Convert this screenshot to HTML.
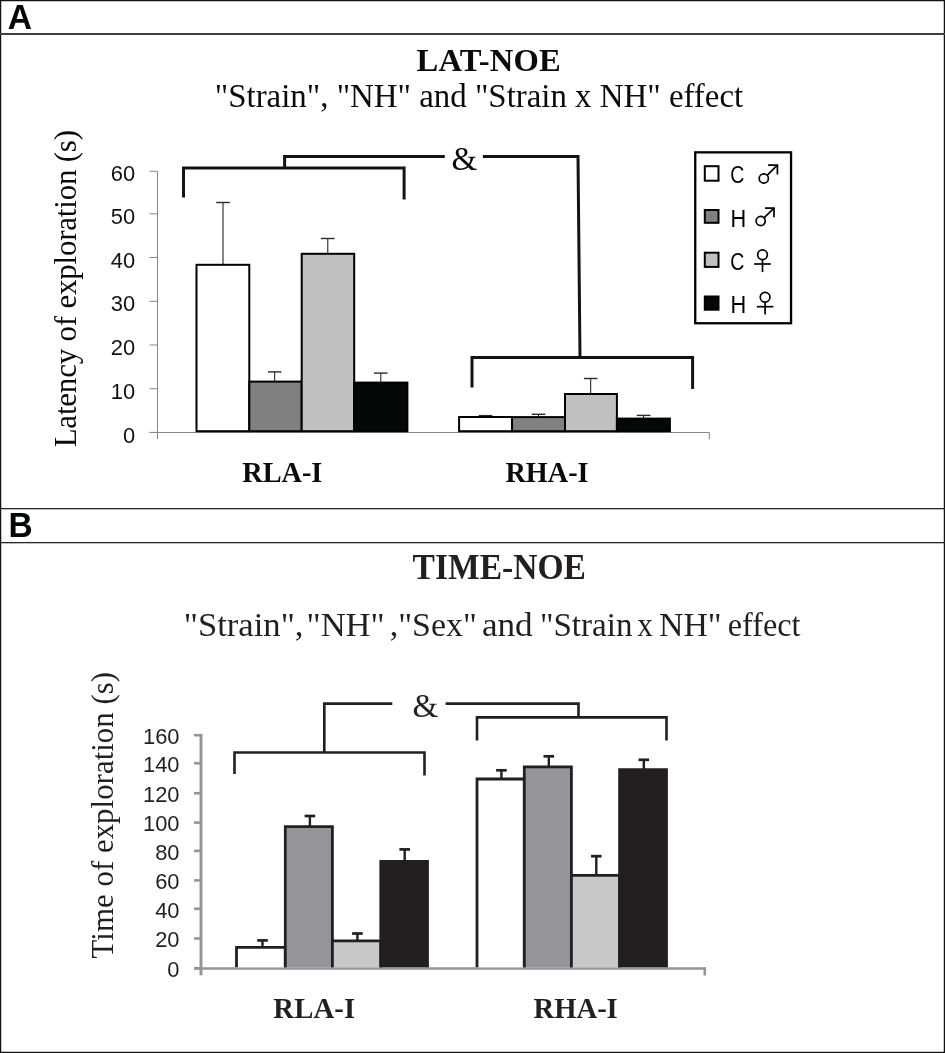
<!DOCTYPE html>
<html><head><meta charset="utf-8"><title>LAT-NOE / TIME-NOE</title>
<style>
html,body{margin:0;padding:0;background:#fff;}
body{width:945px;height:1053px;overflow:hidden;font-family:"Liberation Serif", serif;}
svg{display:block;will-change:transform;}
</style></head><body>
<svg width="945" height="1053" viewBox="0 0 945 1053">
<rect width="945" height="1053" fill="#fff"/>
<rect x="0.6" y="0.6" width="943.8" height="1051.8" fill="none" stroke="#151213" stroke-width="1.3"/>
<rect x="0" y="33" width="945" height="2" fill="#423e3f"/>
<rect x="0" y="508" width="945" height="1.3" fill="#2a2627"/>
<rect x="0" y="542" width="945" height="1.3" fill="#2a2627"/>
<text x="7.74" y="29.40" style="font-family:'Liberation Sans', sans-serif;font-weight:bold;font-size:34.2px" fill="#040708" textLength="24.28" lengthAdjust="spacingAndGlyphs">A</text>
<text x="8.56" y="536.80" style="font-family:'Liberation Sans', sans-serif;font-weight:bold;font-size:34.5px" fill="#040708" textLength="24.17" lengthAdjust="spacingAndGlyphs">B</text>
<text x="416.51" y="71.20" style="font-family:'Liberation Serif', serif;font-weight:bold;font-size:32.6px" fill="#0b0b0b" textLength="144.13" lengthAdjust="spacing">LAT-NOE</text>
<text x="214.83" y="106.60" style="font-family:'Liberation Serif', serif;font-weight:normal;font-size:32.9px" fill="#0b0b0b" textLength="528.29" lengthAdjust="spacing">&quot;Strain&quot;, &quot;NH&quot; and &quot;Strain x NH&quot; effect</text>
<text transform="translate(76.10,447.33) rotate(-90)" x="0" y="0" style="font-family:'Liberation Serif', serif;font-weight:normal;font-size:31px" fill="#0b0b0b" textLength="317.35" lengthAdjust="spacing">Latency of exploration (s)</text>
<line x1="157.5" y1="171.30" x2="157.5" y2="439.2" stroke="#878787" stroke-width="1"/>
<line x1="149.5" y1="432.40" x2="157.5" y2="432.40" stroke="#878787" stroke-width="1"/>
<text x="122.92" y="442.56" style="font-family:'Liberation Sans', sans-serif;font-weight:normal;font-size:21.9px" fill="#111">0</text>
<line x1="149.5" y1="388.70" x2="157.5" y2="388.70" stroke="#878787" stroke-width="1"/>
<text x="110.77" y="398.87" style="font-family:'Liberation Sans', sans-serif;font-weight:normal;font-size:21.9px" fill="#111">10</text>
<line x1="149.5" y1="345.00" x2="157.5" y2="345.00" stroke="#878787" stroke-width="1"/>
<text x="110.77" y="355.17" style="font-family:'Liberation Sans', sans-serif;font-weight:normal;font-size:21.9px" fill="#111">20</text>
<line x1="149.5" y1="301.30" x2="157.5" y2="301.30" stroke="#878787" stroke-width="1"/>
<text x="110.77" y="311.47" style="font-family:'Liberation Sans', sans-serif;font-weight:normal;font-size:21.9px" fill="#111">30</text>
<line x1="149.5" y1="257.50" x2="157.5" y2="257.50" stroke="#878787" stroke-width="1"/>
<text x="110.77" y="267.67" style="font-family:'Liberation Sans', sans-serif;font-weight:normal;font-size:21.9px" fill="#111">40</text>
<line x1="149.5" y1="213.80" x2="157.5" y2="213.80" stroke="#878787" stroke-width="1"/>
<text x="110.77" y="223.97" style="font-family:'Liberation Sans', sans-serif;font-weight:normal;font-size:21.9px" fill="#111">50</text>
<line x1="149.5" y1="171.30" x2="157.5" y2="171.30" stroke="#878787" stroke-width="1"/>
<text x="110.77" y="181.47" style="font-family:'Liberation Sans', sans-serif;font-weight:normal;font-size:21.9px" fill="#111">60</text>
<line x1="149.5" y1="432.5" x2="709.3" y2="432.5" stroke="#878787" stroke-width="1"/>
<line x1="709.3" y1="432.5" x2="709.3" y2="439.4" stroke="#878787" stroke-width="1"/>
<line x1="223.00" y1="264.80" x2="223.00" y2="202.50" stroke="#101010" stroke-width="1"/>
<line x1="216.20" y1="202.50" x2="229.80" y2="202.50" stroke="#2a2a2a" stroke-width="1.4"/>
<line x1="274.70" y1="381.60" x2="274.70" y2="371.90" stroke="#101010" stroke-width="1"/>
<line x1="267.90" y1="371.90" x2="281.50" y2="371.90" stroke="#2a2a2a" stroke-width="1.4"/>
<line x1="327.80" y1="253.80" x2="327.80" y2="238.50" stroke="#101010" stroke-width="1"/>
<line x1="321.00" y1="238.50" x2="334.60" y2="238.50" stroke="#2a2a2a" stroke-width="1.4"/>
<line x1="380.80" y1="382.60" x2="380.80" y2="373.10" stroke="#101010" stroke-width="1"/>
<line x1="374.00" y1="373.10" x2="387.60" y2="373.10" stroke="#2a2a2a" stroke-width="1.4"/>
<rect x="196.50" y="264.80" width="52.80" height="166.40" fill="#ffffff" stroke="#000" stroke-width="2"/>
<rect x="249.30" y="381.60" width="52.40" height="49.60" fill="#7f807f" stroke="#000" stroke-width="2"/>
<rect x="301.70" y="253.80" width="52.50" height="177.40" fill="#c0c0c0" stroke="#000" stroke-width="2"/>
<rect x="354.20" y="382.60" width="53.20" height="48.60" fill="#050809" stroke="#000" stroke-width="2"/>
<line x1="485.50" y1="417.00" x2="485.50" y2="415.60" stroke="#101010" stroke-width="1"/>
<line x1="478.70" y1="415.60" x2="492.30" y2="415.60" stroke="#2a2a2a" stroke-width="1.4"/>
<line x1="538.50" y1="417.10" x2="538.50" y2="414.30" stroke="#101010" stroke-width="1"/>
<line x1="531.70" y1="414.30" x2="545.30" y2="414.30" stroke="#2a2a2a" stroke-width="1.4"/>
<line x1="590.70" y1="394.00" x2="590.70" y2="378.50" stroke="#101010" stroke-width="1"/>
<line x1="583.90" y1="378.50" x2="597.50" y2="378.50" stroke="#2a2a2a" stroke-width="1.4"/>
<line x1="643.60" y1="418.60" x2="643.60" y2="415.40" stroke="#101010" stroke-width="1"/>
<line x1="636.80" y1="415.40" x2="650.40" y2="415.40" stroke="#2a2a2a" stroke-width="1.4"/>
<rect x="459.10" y="417.00" width="52.95" height="14.20" fill="#ffffff" stroke="#000" stroke-width="2"/>
<rect x="512.05" y="417.10" width="52.95" height="14.10" fill="#7f807f" stroke="#000" stroke-width="2"/>
<rect x="565.00" y="394.00" width="51.90" height="37.20" fill="#c0c0c0" stroke="#000" stroke-width="2"/>
<rect x="616.90" y="418.60" width="53.00" height="12.60" fill="#050809" stroke="#000" stroke-width="2"/>
<polyline points="183.50,197.50 183.50,168.00 404.10,168.00 404.10,199.50" fill="none" stroke="#141414" stroke-width="3" stroke-linejoin="miter" stroke-linecap="butt"/>
<polyline points="284.60,168.00 284.60,156.40 444.80,156.40" fill="none" stroke="#141414" stroke-width="3" stroke-linejoin="miter" stroke-linecap="butt"/>
<polyline points="482.90,156.40 578.00,156.40 580.00,357.60" fill="none" stroke="#141414" stroke-width="3" stroke-linejoin="miter" stroke-linecap="butt"/>
<polyline points="472.00,387.50 472.00,357.60 692.60,357.60 692.60,389.00" fill="none" stroke="#141414" stroke-width="3" stroke-linejoin="miter" stroke-linecap="butt"/>
<text x="451.48" y="170.00" style="font-family:'Liberation Serif', serif;font-weight:normal;font-size:33px" fill="#0b0b0b" textLength="25.91" lengthAdjust="spacing">&amp;</text>
<text x="242.26" y="481.50" style="font-family:'Liberation Serif', serif;font-weight:bold;font-size:29.5px" fill="#0b0b0b" textLength="80.13" lengthAdjust="spacingAndGlyphs">RLA-I</text>
<text x="505.46" y="481.50" style="font-family:'Liberation Serif', serif;font-weight:bold;font-size:29.5px" fill="#0b0b0b" textLength="83.06" lengthAdjust="spacingAndGlyphs">RHA-I</text>
<rect x="695.25" y="152.35" width="95.8" height="170.9" fill="#fff" stroke="#000" stroke-width="2.3"/>
<rect x="704.80" y="166.20" width="13.7" height="14.50" fill="#ffffff" stroke="#000" stroke-width="2"/>
<rect x="704.80" y="210.00" width="13.7" height="12.80" fill="#7f807f" stroke="#000" stroke-width="2"/>
<rect x="704.80" y="252.70" width="13.7" height="14.20" fill="#c0c0c0" stroke="#000" stroke-width="2"/>
<rect x="704.80" y="296.50" width="13.7" height="13.20" fill="#050809" stroke="#000" stroke-width="2"/>
<text x="730.23" y="183.40" style="font-family:'Liberation Sans', sans-serif;font-weight:normal;font-size:23.5px" fill="#000" textLength="14.07" lengthAdjust="spacingAndGlyphs">C</text>
<text x="730.52" y="226.70" style="font-family:'Liberation Sans', sans-serif;font-weight:normal;font-size:23.5px" fill="#000" textLength="15.71" lengthAdjust="spacingAndGlyphs">H</text>
<text x="730.23" y="270.30" style="font-family:'Liberation Sans', sans-serif;font-weight:normal;font-size:23.5px" fill="#000" textLength="14.07" lengthAdjust="spacingAndGlyphs">C</text>
<text x="730.52" y="313.10" style="font-family:'Liberation Sans', sans-serif;font-weight:normal;font-size:23.5px" fill="#000" textLength="15.71" lengthAdjust="spacingAndGlyphs">H</text>
<circle cx="763.80" cy="178.50" r="4.60" fill="none" stroke="#000" stroke-width="1.7"/><line x1="767.09" y1="175.28" x2="777.40" y2="165.20" stroke="#000" stroke-width="1.7"/><polyline points="768.10,165.20 777.40,165.20 777.40,174.50" fill="none" stroke="#000" stroke-width="1.7"/>
<circle cx="760.70" cy="221.00" r="4.60" fill="none" stroke="#000" stroke-width="1.7"/><line x1="764.01" y1="217.81" x2="774.00" y2="208.20" stroke="#000" stroke-width="1.7"/><polyline points="765.00,208.20 774.00,208.20 774.00,217.20" fill="none" stroke="#000" stroke-width="1.7"/>
<circle cx="762.50" cy="254.80" r="4.85" fill="none" stroke="#000" stroke-width="1.7"/><line x1="762.50" y1="259.65" x2="762.50" y2="272.10" stroke="#000" stroke-width="1.7"/><line x1="754.20" y1="264.00" x2="770.80" y2="264.00" stroke="#000" stroke-width="1.7"/>
<circle cx="765.10" cy="297.30" r="4.85" fill="none" stroke="#000" stroke-width="1.7"/><line x1="765.10" y1="302.15" x2="765.10" y2="314.50" stroke="#000" stroke-width="1.7"/><line x1="756.80" y1="306.70" x2="773.40" y2="306.70" stroke="#000" stroke-width="1.7"/>
<text x="412.58" y="578.80" style="font-family:'Liberation Serif', serif;font-weight:bold;font-size:35px" fill="#231f20" textLength="173.35" lengthAdjust="spacingAndGlyphs">TIME-NOE</text>
<text x="183.75" y="635.80" style="font-family:'Liberation Serif', serif;font-weight:normal;font-size:34.2px" fill="#231f20" textLength="119.68" lengthAdjust="spacingAndGlyphs">&quot;Strain&quot;,</text>
<text x="306.55" y="635.80" style="font-family:'Liberation Serif', serif;font-weight:normal;font-size:34.2px" fill="#231f20" textLength="78.13" lengthAdjust="spacingAndGlyphs">&quot;NH&quot;</text>
<text x="389.73" y="635.80" style="font-family:'Liberation Serif', serif;font-weight:normal;font-size:34.2px" fill="#231f20" textLength="87.07" lengthAdjust="spacingAndGlyphs">,&quot;Sex&quot;</text>
<text x="481.90" y="635.80" style="font-family:'Liberation Serif', serif;font-weight:normal;font-size:34.2px" fill="#231f20" textLength="50.80" lengthAdjust="spacingAndGlyphs">and</text>
<text x="539.95" y="635.80" style="font-family:'Liberation Serif', serif;font-weight:normal;font-size:34.2px" fill="#231f20" textLength="92.53" lengthAdjust="spacingAndGlyphs">&quot;Strain</text>
<text x="637.16" y="635.80" style="font-family:'Liberation Serif', serif;font-weight:normal;font-size:34.2px" fill="#231f20" textLength="15.58" lengthAdjust="spacingAndGlyphs">x</text>
<text x="658.97" y="635.80" style="font-family:'Liberation Serif', serif;font-weight:normal;font-size:34.2px" fill="#231f20" textLength="62.67" lengthAdjust="spacingAndGlyphs">NH&quot;</text>
<text x="727.73" y="635.80" style="font-family:'Liberation Serif', serif;font-weight:normal;font-size:34.2px" fill="#231f20" textLength="72.82" lengthAdjust="spacingAndGlyphs">effect</text>
<text transform="translate(113.20,958.42) rotate(-90)" x="0" y="0" style="font-family:'Liberation Serif', serif;font-weight:normal;font-size:30.8px" fill="#231f20" textLength="286.53" lengthAdjust="spacing">Time of exploration (s)</text>
<line x1="201" y1="733.90" x2="201" y2="975.3" stroke="#939598" stroke-width="2.9"/>
<line x1="194" y1="968.30" x2="201" y2="968.30" stroke="#939598" stroke-width="2.6"/>
<text x="167.32" y="977.16" style="font-family:'Liberation Sans', sans-serif;font-weight:normal;font-size:21.9px" fill="#231f20">0</text>
<line x1="194" y1="938.50" x2="201" y2="938.50" stroke="#939598" stroke-width="2.6"/>
<text x="155.17" y="947.37" style="font-family:'Liberation Sans', sans-serif;font-weight:normal;font-size:21.9px" fill="#231f20">20</text>
<line x1="194" y1="908.80" x2="201" y2="908.80" stroke="#939598" stroke-width="2.6"/>
<text x="155.17" y="917.66" style="font-family:'Liberation Sans', sans-serif;font-weight:normal;font-size:21.9px" fill="#231f20">40</text>
<line x1="194" y1="880.40" x2="201" y2="880.40" stroke="#939598" stroke-width="2.6"/>
<text x="155.17" y="889.26" style="font-family:'Liberation Sans', sans-serif;font-weight:normal;font-size:21.9px" fill="#231f20">60</text>
<line x1="194" y1="850.90" x2="201" y2="850.90" stroke="#939598" stroke-width="2.6"/>
<text x="155.17" y="859.76" style="font-family:'Liberation Sans', sans-serif;font-weight:normal;font-size:21.9px" fill="#231f20">80</text>
<line x1="194" y1="822.60" x2="201" y2="822.60" stroke="#939598" stroke-width="2.6"/>
<text x="143.01" y="831.47" style="font-family:'Liberation Sans', sans-serif;font-weight:normal;font-size:21.9px" fill="#231f20">100</text>
<line x1="194" y1="793.20" x2="201" y2="793.20" stroke="#939598" stroke-width="2.6"/>
<text x="143.01" y="802.07" style="font-family:'Liberation Sans', sans-serif;font-weight:normal;font-size:21.9px" fill="#231f20">120</text>
<line x1="194" y1="763.30" x2="201" y2="763.30" stroke="#939598" stroke-width="2.6"/>
<text x="143.01" y="772.16" style="font-family:'Liberation Sans', sans-serif;font-weight:normal;font-size:21.9px" fill="#231f20">140</text>
<line x1="194" y1="735.20" x2="201" y2="735.20" stroke="#939598" stroke-width="2.6"/>
<text x="143.01" y="744.07" style="font-family:'Liberation Sans', sans-serif;font-weight:normal;font-size:21.9px" fill="#231f20">160</text>
<line x1="194" y1="968.5" x2="704.8" y2="968.5" stroke="#939598" stroke-width="2.7"/>
<line x1="704.8" y1="967.2" x2="704.8" y2="975.5" stroke="#939598" stroke-width="2.6"/>
<line x1="262.50" y1="947.30" x2="262.50" y2="940.40" stroke="#231f20" stroke-width="2.4"/>
<line x1="257.20" y1="940.40" x2="267.80" y2="940.40" stroke="#231f20" stroke-width="2.7"/>
<line x1="309.90" y1="826.60" x2="309.90" y2="816.00" stroke="#231f20" stroke-width="2.4"/>
<line x1="304.60" y1="816.00" x2="315.20" y2="816.00" stroke="#231f20" stroke-width="2.7"/>
<line x1="357.40" y1="940.80" x2="357.40" y2="933.50" stroke="#231f20" stroke-width="2.4"/>
<line x1="352.10" y1="933.50" x2="362.70" y2="933.50" stroke="#231f20" stroke-width="2.7"/>
<line x1="404.70" y1="861.50" x2="404.70" y2="849.40" stroke="#231f20" stroke-width="2.4"/>
<line x1="399.40" y1="849.40" x2="410.00" y2="849.40" stroke="#231f20" stroke-width="2.7"/>
<path d="M236.50,967.2 V947.30 H285.30 V967.2" fill="#ffffff" stroke="#231f20" stroke-width="2.8"/>
<path d="M285.30,967.2 V826.60 H332.40 V967.2" fill="#939598" stroke="#231f20" stroke-width="2.8"/>
<path d="M332.40,967.2 V940.80 H380.80 V967.2" fill="#c7c8ca" stroke="#231f20" stroke-width="2.8"/>
<path d="M380.80,967.2 V861.50 H427.50 V967.2" fill="#231f20" stroke="#231f20" stroke-width="2.8"/>
<line x1="501.40" y1="779.00" x2="501.40" y2="770.30" stroke="#231f20" stroke-width="2.4"/>
<line x1="496.10" y1="770.30" x2="506.70" y2="770.30" stroke="#231f20" stroke-width="2.7"/>
<line x1="548.80" y1="766.80" x2="548.80" y2="756.30" stroke="#231f20" stroke-width="2.4"/>
<line x1="543.50" y1="756.30" x2="554.10" y2="756.30" stroke="#231f20" stroke-width="2.7"/>
<line x1="596.30" y1="875.30" x2="596.30" y2="856.20" stroke="#231f20" stroke-width="2.4"/>
<line x1="591.00" y1="856.20" x2="601.60" y2="856.20" stroke="#231f20" stroke-width="2.7"/>
<line x1="643.80" y1="769.60" x2="643.80" y2="759.80" stroke="#231f20" stroke-width="2.4"/>
<line x1="638.50" y1="759.80" x2="649.10" y2="759.80" stroke="#231f20" stroke-width="2.7"/>
<path d="M477.00,967.2 V779.00 H524.30 V967.2" fill="#ffffff" stroke="#231f20" stroke-width="2.8"/>
<path d="M524.30,967.2 V766.80 H571.40 V967.2" fill="#939598" stroke="#231f20" stroke-width="2.8"/>
<path d="M571.40,967.2 V875.30 H619.60 V967.2" fill="#c7c8ca" stroke="#231f20" stroke-width="2.8"/>
<path d="M619.60,967.2 V769.60 H666.50 V967.2" fill="#231f20" stroke="#231f20" stroke-width="2.8"/>
<polyline points="234.50,774.00 234.50,752.50 424.50,752.50 424.50,775.50" fill="none" stroke="#231f20" stroke-width="2.6" stroke-linejoin="miter" stroke-linecap="butt"/>
<polyline points="324.30,752.50 324.30,703.60 392.30,703.60" fill="none" stroke="#231f20" stroke-width="2.6" stroke-linejoin="miter" stroke-linecap="butt"/>
<polyline points="445.60,703.60 578.50,703.60 578.50,717.40" fill="none" stroke="#231f20" stroke-width="2.6" stroke-linejoin="miter" stroke-linecap="butt"/>
<polyline points="477.00,740.50 477.00,717.40 666.50,717.40 666.50,740.50" fill="none" stroke="#231f20" stroke-width="2.6" stroke-linejoin="miter" stroke-linecap="butt"/>
<text x="412.48" y="717.10" style="font-family:'Liberation Serif', serif;font-weight:normal;font-size:33px" fill="#231f20" textLength="25.61" lengthAdjust="spacing">&amp;</text>
<text x="273.27" y="1017.80" style="font-family:'Liberation Serif', serif;font-weight:bold;font-size:28.7px" fill="#231f20" textLength="81.89" lengthAdjust="spacing">RLA-I</text>
<text x="533.57" y="1017.80" style="font-family:'Liberation Serif', serif;font-weight:bold;font-size:28.7px" fill="#231f20" textLength="84.22" lengthAdjust="spacing">RHA-I</text>
</svg>
</body></html>
